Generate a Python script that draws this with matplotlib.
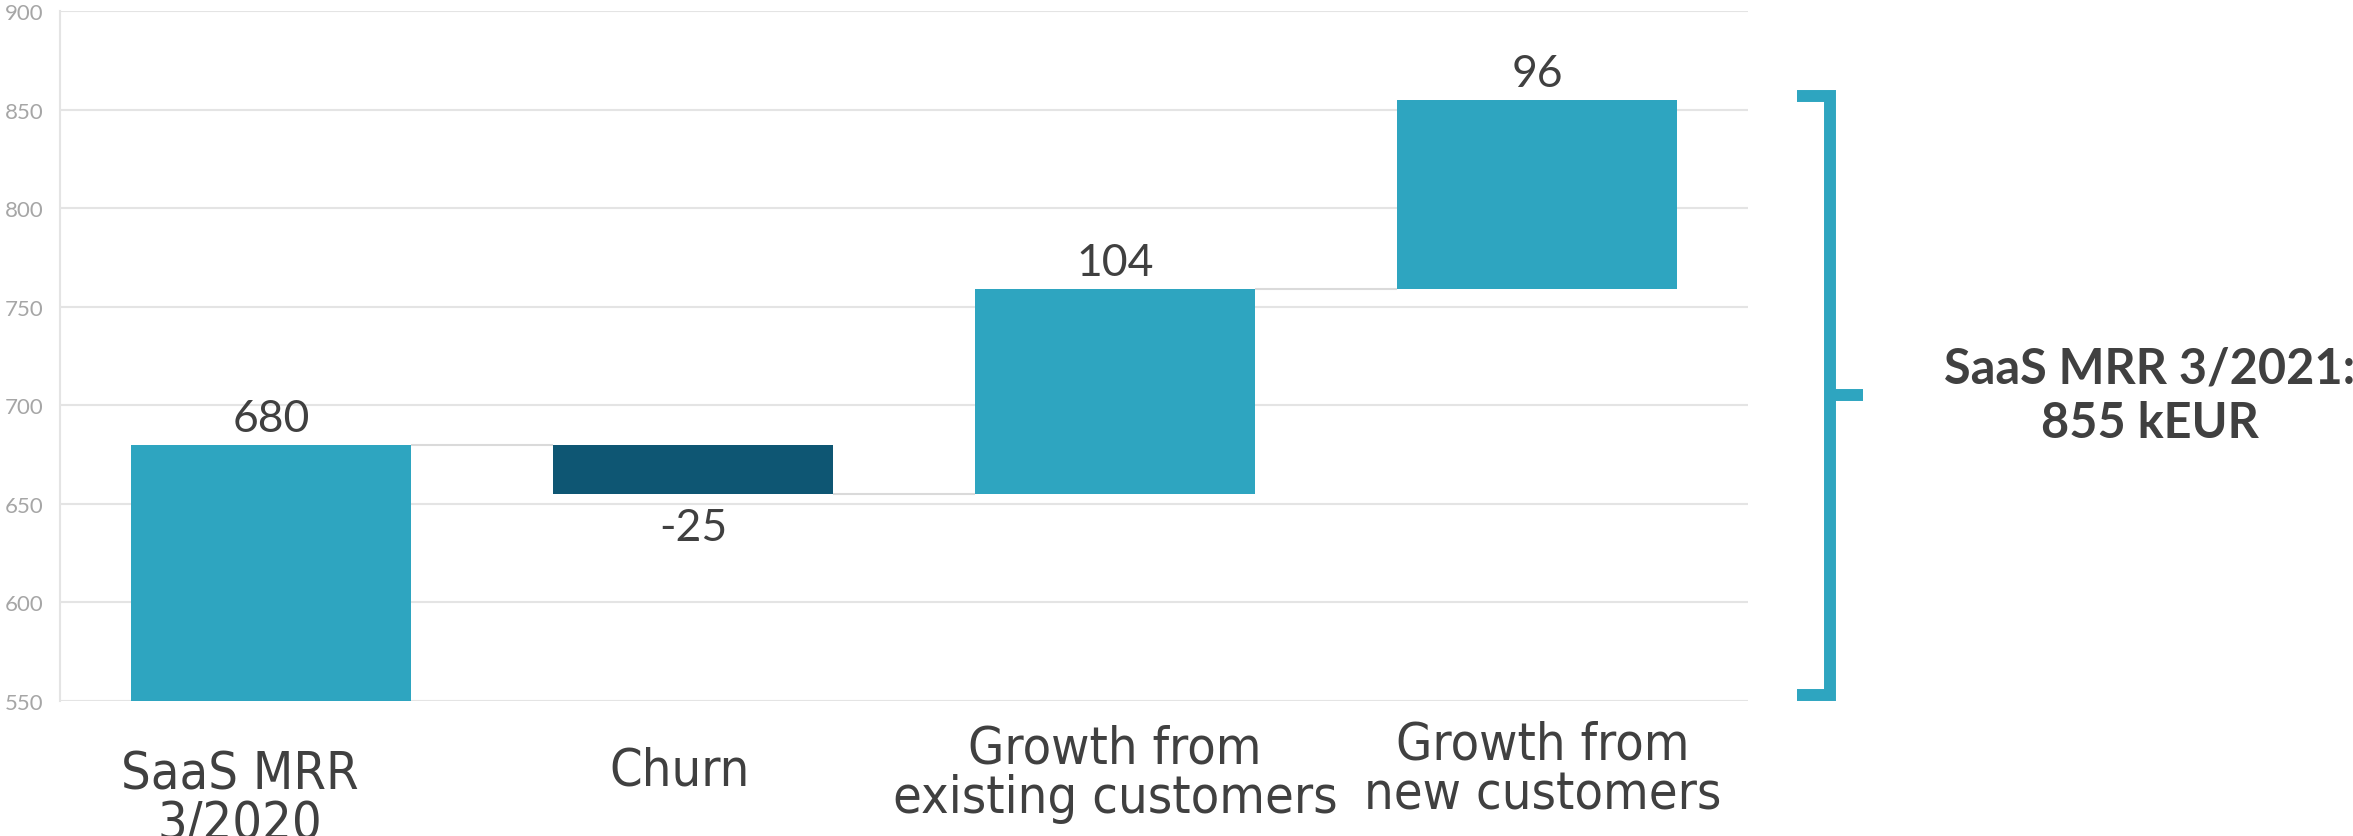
import matplotlib
matplotlib.use("Agg")
import matplotlib.pyplot as plt
from matplotlib.transforms import blended_transform_factory
import numpy as np

# --- data -------------------------------------------------------------
categories = ["SaaS MRR\n3/2020", "Churn",
              "Growth from\nexisting customers", "Growth from\nnew customers"]
start_value = 680
changes = [-25, 104, 96]
y_ticks = [550, 600, 650, 700, 750, 800, 850, 900]
total_label = "SaaS MRR 3/2021:\n855 kEUR"

# --- style ------------------------------------------------------------
TEAL = "#2EA5C0"
DARK = "#0E5673"
GRID = "#E4E4E4"
CONNECT = "#DADADA"
TEXT = "#404040"
TICK = "#A6A6A6"

W, H = 2353, 837
fig = plt.figure(figsize=(W / 100, H / 100), dpi=100)
ax = fig.add_axes([60 / W, 1 - 702 / H, 1688 / W, 690 / H])

y_min, y_max = y_ticks[0], y_ticks[-1]
ax.set_xlim(-0.5, len(categories) - 0.5)
ax.set_ylim(y_min, y_max)

# waterfall geometry derived from the values
levels = np.concatenate([[start_value], start_value + np.cumsum(changes)])
bottoms = [y_min]
heights = [start_value - y_min]
for prev, cur in zip(levels[:-1], levels[1:]):
    bottoms.append(min(prev, cur))
    heights.append(abs(cur - prev))
values = [start_value] + list(changes)
colors = [TEAL if v >= 0 else DARK for v in values]
x = np.arange(len(categories))
bar_w = 0.663

ax.bar(x, heights, bottom=bottoms, width=bar_w, color=colors,
       edgecolor="none", zorder=3)

# connector lines between neighbouring bars
for i in range(len(categories) - 1):
    lvl = levels[i]
    ax.plot([x[i] + bar_w / 2, x[i + 1] - bar_w / 2], [lvl, lvl],
            color=CONNECT, lw=1.5, zorder=2, solid_capstyle="butt")

# value labels
for i, v in enumerate(values):
    top = bottoms[i] + heights[i]
    if v >= 0:
        ax.annotate(f"{v}", xy=(x[i], top), xytext=(0, 14),
                    textcoords="offset pixels", ha="center", va="baseline",
                    fontsize=32, color=TEXT, family="Lato", zorder=4)
    else:
        ax.annotate(f"{v}", xy=(x[i], bottoms[i]), xytext=(0, -13),
                    textcoords="offset pixels", ha="center", va="top",
                    fontsize=32, color=TEXT, family="Lato", zorder=4)

# grid and axes
ax.set_yticks(y_ticks)
ax.yaxis.grid(True, color=GRID, lw=1.5, zorder=0)
ax.set_axisbelow(True)
for side in ("top", "right", "bottom"):
    ax.spines[side].set_visible(False)
ax.spines["left"].set_color(GRID)
ax.spines["left"].set_linewidth(1.5)
ax.tick_params(axis="y", length=0, pad=12, labelsize=16, labelcolor=TICK)
for lab in ax.get_yticklabels():
    lab.set_family("Lato")
ax.set_xticks([])

# category labels below the axis (offsets place the first line's baseline)
label_dx = [-31, -13, 0, 6]
label_dy = [84, 84, 57, 53]
line_pitch = 54
xt = ax.get_xaxis_transform()
for i, cat in enumerate(categories):
    n_lines = cat.count("\n") + 1
    ax.annotate(cat, xy=(x[i], 0), xycoords=xt,
                xytext=(label_dx[i], -label_dy[i] - (n_lines - 1) * line_pitch),
                textcoords="offset pixels",
                ha="center", va="baseline", multialignment="center",
                fontsize=37.5, color=TEXT, family="DejaVu Sans",
                fontstretch="condensed", linespacing=1.0,
                annotation_clip=False)

# brace spanning the total and its caption
bt = blended_transform_factory(ax.transAxes, ax.transData)
b_top = levels[-1] + 2
b_bot = y_min + 3
b_mid = (b_top + b_bot) / 2
x_arm, x_vert, x_notch = 1.029, 1.0486, 1.068
ax.plot([x_arm, x_vert, x_vert, x_arm], [b_top, b_top, b_bot, b_bot],
        transform=bt, color=TEAL, lw=8.6, solid_joinstyle="miter",
        solid_capstyle="butt", clip_on=False)
ax.plot([x_vert, x_notch], [b_mid, b_mid], transform=bt, color=TEAL,
        lw=8.6, solid_capstyle="butt", clip_on=False)
ax.text(1.238, b_mid, total_label, transform=bt, ha="center", va="center",
        fontsize=35, fontweight="bold", color=TEXT, family="Lato",
        linespacing=1.25, clip_on=False)

fig.savefig("out.png", dpi=100)
